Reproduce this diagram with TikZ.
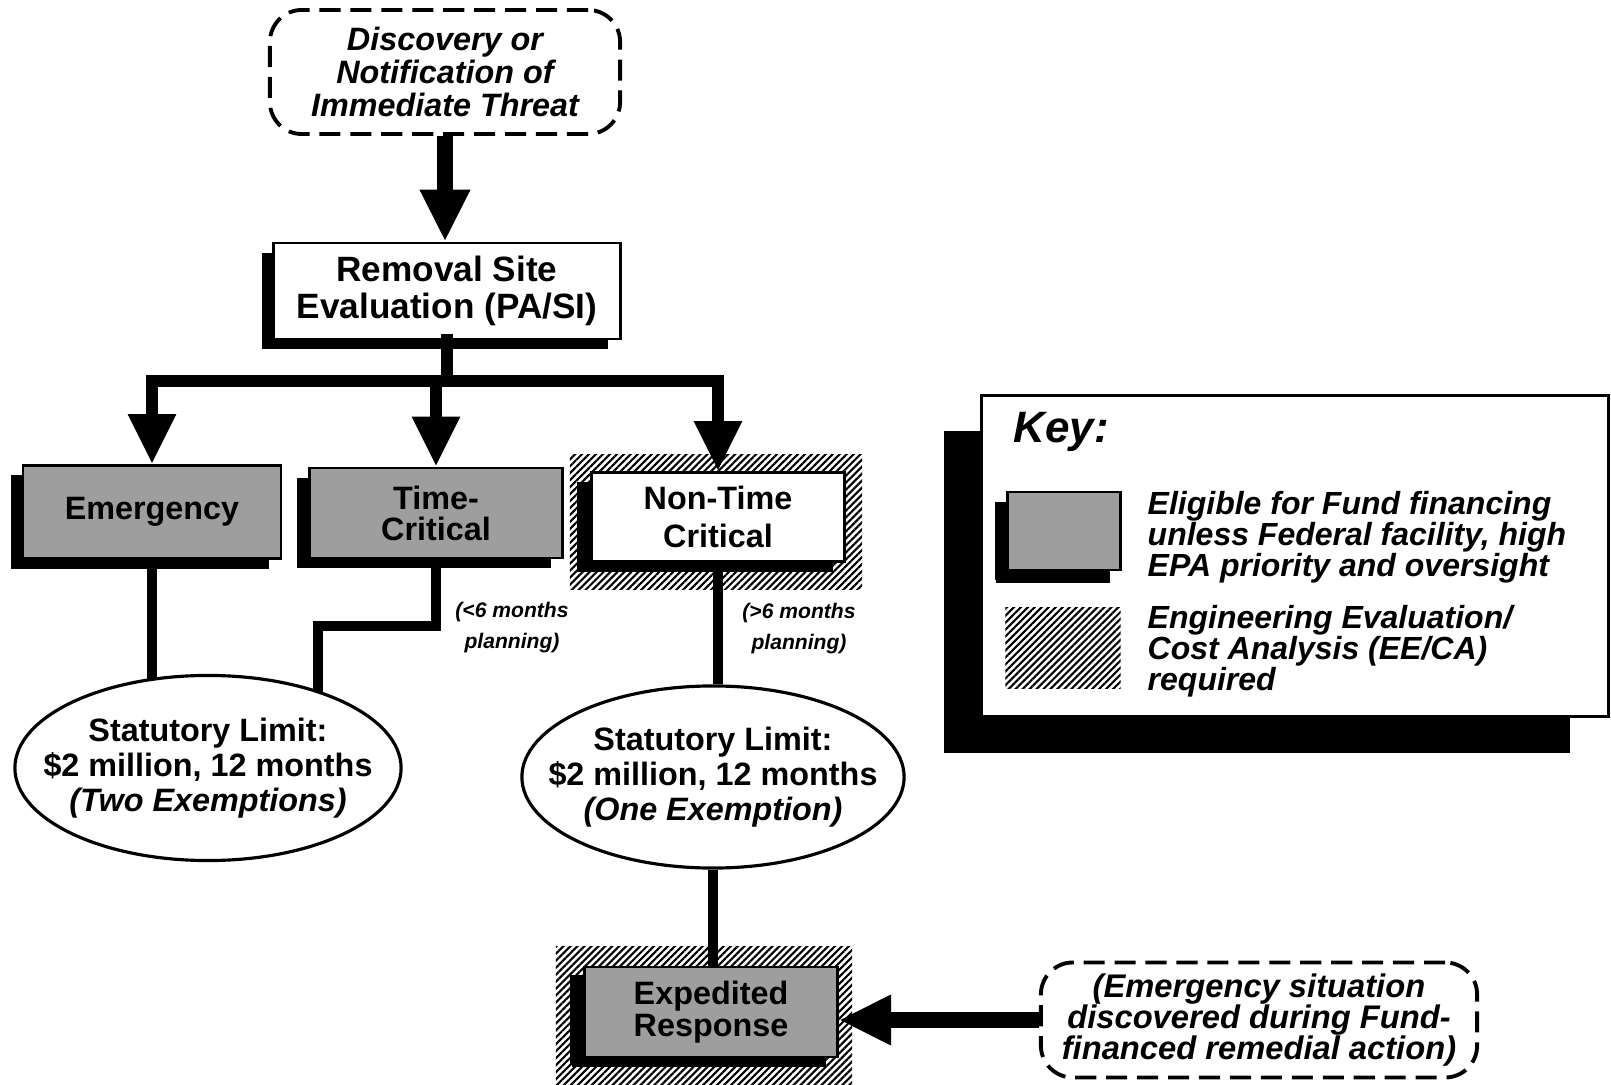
\documentclass[tikz,border=0pt]{standalone}
\usepackage{fontspec}
\setmainfont{Liberation Sans}
\usetikzlibrary{arrows.meta,shapes.geometric,shadows,patterns.meta,backgrounds}
\tikzset{
  lbl/.style={align=center, font=\fontsize{9.2}{9.4}\selectfont\bfseries},
  dashbox/.style={draw, line width=1.1pt, dash pattern=on 6pt off 2.8pt, rounded corners=0.32cm, inner sep=0pt},
  shbox/.style={draw, line width=0.8pt, inner sep=0pt,
     drop shadow={shadow xshift=-0.12cm, shadow yshift=-0.10cm, fill=black, opacity=1}},
  graybox/.style={shbox, fill=black!38},
  whitebox/.style={shbox, fill=white},
  hatch/.style={pattern={Lines[angle=45,distance=1.4pt,line width=0.6pt]}, inner sep=0pt},
  oval/.style={ellipse, draw, line width=0.9pt, fill=white, inner sep=0pt},
  ovaltext/.style={align=center, inner sep=0pt, font=\fontsize{9.2}{10}\selectfont\bfseries},
  bigarrow/.style={line width=0.15cm, -{Triangle[width=0.47cm,length=0.52cm]}},
  brarrow/.style={line width=0.12cm, -{Triangle[width=0.45cm,length=0.50cm]}},
  barline/.style={line width=0.12cm, line cap=rect},
  conn/.style={line width=0.10cm},
  note/.style={align=center, font=\fontsize{6}{8.8}\selectfont\bfseries\itshape},
  keytext/.style={align=left, anchor=west, inner sep=0pt, font=\fontsize{9.1}{8.8}\selectfont\bfseries\itshape}
}
\begin{document}
\begin{tikzpicture}[x=0.01cm,y=-0.01cm]
\useasboundingbox (0,0) rectangle (1611,1085);

% top dashed box
\node[dashbox, lbl, font=\fontsize{9.2}{9.4}\selectfont\bfseries\itshape,
      minimum width=3.50cm, minimum height=1.24cm] (top) at (445,72)
  {Discovery or\\Notification of\\Immediate Threat};

% removal site evaluation
\node[whitebox, lbl, font=\fontsize{10}{10.5}\selectfont\bfseries,
      minimum width=3.46cm, minimum height=0.96cm] (rem) at (447,291)
  {Removal Site\\Evaluation (PA/SI)};

% three branches
\node[graybox, lbl, minimum width=2.58cm, minimum height=0.93cm] (emg) at (152,512) {Emergency};
\node[graybox, lbl, font=\fontsize{9.2}{8.8}\selectfont\bfseries,
      minimum width=2.53cm, minimum height=0.90cm] (tc) at (436,513) {Time-\\Critical};
\node[hatch, minimum width=2.92cm, minimum height=1.35cm] (ntcH) at (716,522) {};
\node[shbox, fill=white, lbl, font=\fontsize{9.2}{10.8}\selectfont\bfseries,
      drop shadow={shadow xshift=-0.14cm, shadow yshift=-0.10cm, fill=black, opacity=1},
      minimum width=2.53cm, minimum height=0.89cm] (ntc) at (718,517) {Non-Time\\Critical};

% notes
\node[note] (n1) at (512,628) {(<6 months\\planning)};
\node[note] (n2) at (799,629) {(>6 months\\planning)};

% ellipses
\node[oval, minimum width=3.86cm, minimum height=1.85cm] (ell1) at (208,768) {};
\node[ovaltext] (ell1t) at (ell1.center) {Statutory Limit:\\\$2 million, 12 months\\\textit{(Two Exemptions)}};
\node[oval, minimum width=3.82cm, minimum height=1.82cm] (ell2) at (713,777) {};
\node[ovaltext] (ell2t) at (ell2.center) {Statutory Limit:\\\$2 million, 12 months\\\textit{(One Exemption)}};

% expedited response
\node[hatch, minimum width=2.96cm, minimum height=1.38cm] (expH) at (704,1016) {};
\node[shbox, fill=black!38, lbl, font=\fontsize{9.2}{9}\selectfont\bfseries,
      drop shadow={shadow xshift=-0.14cm, shadow yshift=-0.08cm, fill=black, opacity=1},
      minimum width=2.53cm, minimum height=0.90cm] (exp) at (711,1012) {Expedited\\Response};

% emergency situation dashed box
\node[dashbox, lbl, font=\fontsize{9.3}{8.9}\selectfont\bfseries\itshape,
      minimum width=4.36cm, minimum height=1.15cm] (emsit) at (1259,1020)
  {(Emergency situation\\discovered during Fund-\\financed remedial action)};

% key
\node[draw, fill=white, line width=0.9pt, inner sep=0pt,
      drop shadow={shadow xshift=-0.38cm, shadow yshift=-0.36cm, fill=black, opacity=1},
      minimum width=6.26cm, minimum height=3.21cm] (key) at (1295,556) {};
\node[anchor=west, inner sep=0pt, font=\fontsize{12.5}{14}\selectfont\bfseries\itshape] (keyt) at (1013,432) {Key:};
\node[shbox, fill=black!38,
      drop shadow={shadow xshift=-0.11cm, shadow yshift=-0.13cm, fill=black, opacity=1},
      minimum width=1.13cm, minimum height=0.78cm] (ksq1) at (1064,531) {};
\node[hatch, minimum width=1.15cm, minimum height=0.81cm] (ksq2) at (1063,648) {};
\node[keytext] (kt1) at (1147,537) {Eligible for Fund financing\\unless Federal facility, high\\EPA priority and oversight};
\node[keytext] (kt2) at (1147,651) {Engineering Evaluation/\\Cost Analysis (EE/CA)\\required};

% connectors
\coordinate (bar) at (444,381);
\coordinate (tcbend) at (318,626);
\draw[bigarrow] (top.south) -- (top.south |- rem.north);
\draw[barline] (rem.south) -- (rem.south |- bar);
\draw[barline] (emg.north |- bar) -- (ntc.north |- bar);
\draw[brarrow] (emg.north |- bar) -- (emg.north);
\draw[brarrow] (tc.north |- bar) -- (tc.north);
\draw[brarrow] (ntc.north |- bar) -- (ntc.north);
\begin{scope}[on background layer]
  \draw[conn] (emg.south) -- (emg.south |- ell1.center);
  \draw[conn] (tc.south) |- (tcbend) -- (tcbend |- ell1.center);
\end{scope}
\draw[conn] (ntc.south) -- (ntc.south |- ell2.north);
\draw[conn] (ell2.south) -- (ell2.south |- exp.north);
\draw[bigarrow] (emsit.west) -- (emsit.west -| exp.east);
\end{tikzpicture}
\end{document}
